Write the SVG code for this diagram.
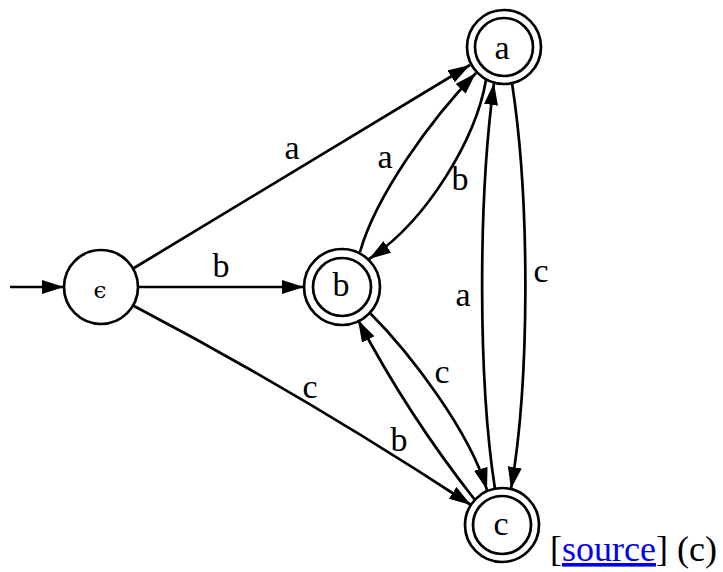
<svg xmlns="http://www.w3.org/2000/svg" width="723" height="572" viewBox="0 0 723 572">
<style>
.n{fill:none;stroke:#000;stroke-width:2.7}
.e{fill:none;stroke:#000;stroke-width:2.7;marker-end:url(#ah)}
.t{font-family:"Liberation Serif","Times New Roman",serif;font-size:34px;text-anchor:middle;fill:#000}
.eps{font-family:"DejaVu Serif","Liberation Serif",serif;font-size:23px;text-anchor:middle;fill:#000}
.src{font-family:"Liberation Serif","Times New Roman",serif;font-size:36px;fill:#000}
</style>
<defs>
<marker id="ah" markerWidth="24" markerHeight="16" refX="22" refY="7" orient="auto" markerUnits="userSpaceOnUse">
<path d="M0,0 L22,7 L0,14 z" fill="#000"/>
</marker>
</defs>
<rect width="723" height="572" fill="#fff"/>
<g id="edges">
<path class="e" d="M10,287 L64,287"/>
<path class="e" d="M134,268 L470,65"/>
<path class="e" d="M138,287 L304,287"/>
<path class="e" d="M134,306 Q300,393 471,505"/>
<path class="e" d="M360,252 C376,195 432,118 476,73"/>
<path class="e" d="M486,80 C476,138 428,220 369,259"/>
<path class="e" d="M495,489 C478,380 478,200 494,83"/>
<path class="e" d="M512,83 C530,200 530,380 511,489"/>
<path class="e" d="M369,312 C411,354 470,432 487,490"/>
<path class="e" d="M475,500 Q408,415 358,320"/>
</g>
<g id="edge-labels">
<text class="t" x="292" y="159">a</text>
<text class="t" x="221" y="277">b</text>
<text class="t" x="310" y="398">c</text>
<text class="t" x="385" y="168">a</text>
<text class="t" x="460" y="190">b</text>
<text class="t" x="463" y="306">a</text>
<text class="t" x="541" y="282">c</text>
<text class="t" x="442" y="383">c</text>
<text class="t" x="399" y="451">b</text>
</g>
<g id="node-eps">
<circle class="n" cx="101" cy="287" r="37" fill="#fff"/>
<text class="eps" x="100" y="298">ϵ</text>
</g>
<g id="node-a">
<circle class="n" cx="504" cy="47" r="37"/>
<circle class="n" cx="504" cy="47" r="29"/>
<text class="t" x="502" y="59">a</text>
</g>
<g id="node-b">
<circle class="n" cx="342" cy="287" r="38"/>
<circle class="n" cx="342" cy="287" r="29"/>
<text class="t" x="341" y="296">b</text>
</g>
<g id="node-c">
<circle class="n" cx="502" cy="525" r="37"/>
<circle class="n" cx="502" cy="525" r="29"/>
<text class="t" x="501" y="535">c</text>
</g>
<text class="src" x="550" y="561">[<tspan fill="#0000EE" style="text-decoration:underline">source</tspan>] (c)</text>
</svg>
